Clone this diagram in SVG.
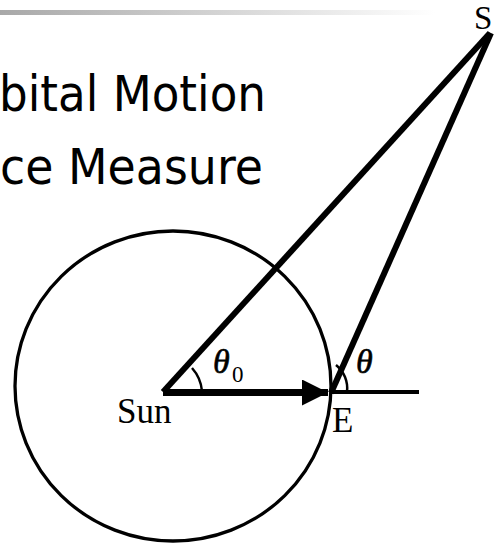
<svg xmlns="http://www.w3.org/2000/svg" width="497" height="547" viewBox="0 0 497 547">
<style>
.title{font-family:"DejaVu Sans","Verdana",sans-serif;font-size:50px;fill:#000}
.lbl{font-family:"Liberation Serif","Times New Roman",serif;font-size:35px;fill:#000}
.gr{font-family:"Liberation Serif","Times New Roman",serif;font-style:italic;font-size:34px;fill:#000;stroke:#000;stroke-width:0.6}
.thick{stroke:#000;stroke-width:6;fill:none;stroke-linecap:butt}
.thin{stroke:#000;stroke-width:2.5;fill:none}
</style>
<defs>
<linearGradient id="bar" x1="0" y1="0" x2="1" y2="0">
<stop offset="0" stop-color="#a8a8a8"/>
<stop offset="1" stop-color="#ffffff"/>
</linearGradient>
<marker id="ah" markerUnits="userSpaceOnUse" markerWidth="26" markerHeight="26" refX="26" refY="13" orient="auto">
<path d="M0,0 L26,13 L0,26 Z" fill="#000"/>
</marker>
</defs>
<rect x="0" y="10" width="435" height="5" fill="url(#bar)"/>
<g id="title">
<text class="title" x="-1" y="111" textLength="267" lengthAdjust="spacingAndGlyphs">bital Motion</text>
<text class="title" x="0" y="184" textLength="263" lengthAdjust="spacingAndGlyphs">ce Measure</text>
</g>
<g id="orbit">
<ellipse cx="173" cy="386" rx="158" ry="155" fill="none" stroke="#000" stroke-width="3.3"/>
</g>
<g id="connectors">
<line class="thick" x1="163" y1="392" x2="490" y2="33"/>
<line class="thick" x1="331" y1="393" x2="491" y2="33"/>
<line x1="163" y1="392.5" x2="328" y2="392.5" stroke="#000" stroke-width="7" marker-end="url(#ah)"/>
<line x1="330" y1="392" x2="419" y2="392" stroke="#000" stroke-width="4"/>
<path class="thin" d="M192,368 A40,40 0 0 1 202,391"/>
<path class="thin" d="M336,365 A30,30 0 0 1 347,392"/>
</g>
<g id="sun">
<text class="lbl" x="117" y="423">Sun</text>
</g>
<g id="earth">
<text class="lbl" x="332" y="432">E</text>
</g>
<g id="star">
<text class="lbl" x="474" y="29" style="font-size:33px">S</text>
</g>
<g id="angles">
<text class="gr" x="213" y="373">θ</text>
<text class="lbl" x="232" y="382" style="font-size:23px">0</text>
<text class="gr" x="356" y="373">θ</text>
</g>
</svg>
